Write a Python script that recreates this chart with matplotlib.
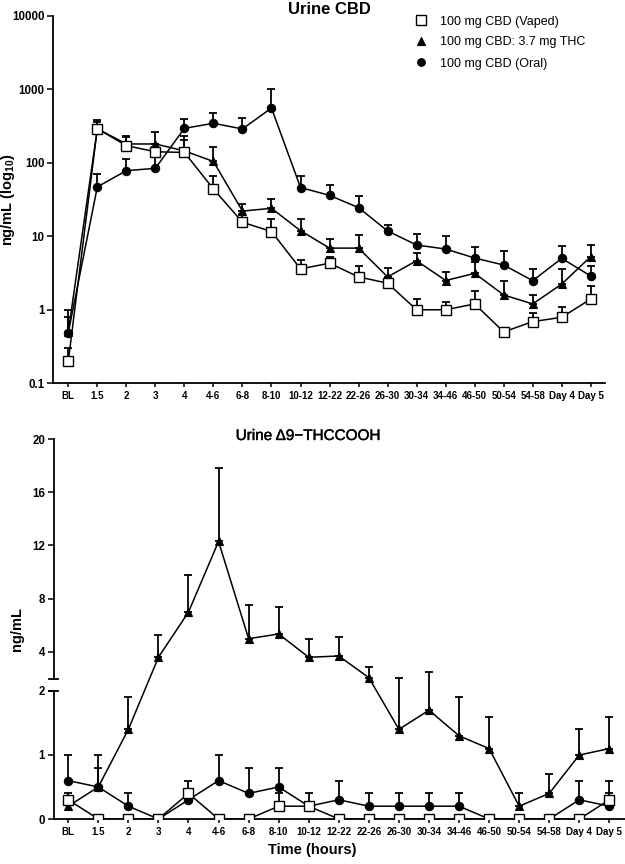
import numpy as np
import matplotlib
matplotlib.use("Agg")
import matplotlib.pyplot as plt
from matplotlib.lines import Line2D
import matplotlib.transforms as mtrans
import matplotlib.patheffects as pe

plt.rcParams['font.family'] = ['Liberation Sans', 'DejaVu Sans']
plt.rcParams['mathtext.fontset'] = 'custom'
plt.rcParams['mathtext.rm'] = 'Liberation Sans'
plt.rcParams['mathtext.bf'] = 'Liberation Sans:bold'

categories = ['BL', '1.5', '2', '3', '4', '4-6', '6-8', '8-10', '10-12', '12-22',
              '22-26', '26-30', '30-34', '34-46', '46-50', '50-54', '54-58', 'Day 4', 'Day 5']

# Urine CBD (ng/mL), means and upper error-bar ends
cbd_vaped = [0.2, 290, 171, 141, 138, 44, 15.5, 11.6, 3.6, 4.3, 2.8, 2.3, 1.0, 1.0, 1.2, 0.5, 0.69, 0.79, 1.4]
cbd_vaped_top = [0.3, 354, 224, 165, 205, 67, 20, 17, 4.75, 5.3, 3.95, 2.8, 1.39, 1.28, 1.8, 0.57, 0.9, 1.1, 2.1]
cbd_mix = [0.5, 290, 180, 180, 145, 104, 22, 24, 11.9, 6.9, 6.9, 2.8, 4.65, 2.5, 3.13, 1.59, 1.2, 2.24, 5.3]
cbd_mix_top = [0.8, 381, 231, 259, 231, 165, 27.5, 32, 17, 9.3, 10.4, 3.7, 6.0, 3.3, 4.5, 2.47, 1.57, 3.55, 7.5]
cbd_oral = [0.49, 47, 78, 84, 294, 344, 288, 555, 46, 36, 24.5, 11.8, 7.6, 6.7, 5.06, 4.06, 2.49, 5.0, 2.88]
cbd_oral_top = [1.0, 70, 112, 120, 390, 480, 410, 1016, 67, 50, 35, 14.1, 10.6, 10.2, 7.1, 6.4, 3.6, 7.4, 4.0]

# Urine THCCOOH (ng/mL)
thc_vaped = [0.3, 0, 0, 0, 0.4, 0, 0, 0.2, 0.2, 0, 0, 0, 0, 0, 0, 0, 0, 0, 0.3]
thc_vaped_top = [0.4, 0, 0, 0, 0.6, 0, 0, 0.4, 0.4, 0, 0, 0, 0, 0, 0, 0, 0, 0, 0.6]
thc_mix = [0.2, 0.5, 1.4, 3.6, 7.0, 12.3, 5.0, 5.35, 3.6, 3.7, 2.07, 1.4, 1.7, 1.3, 1.1, 0.2, 0.4, 1.0, 1.1]
thc_mix_top = [0.2, 0.8, 1.9, 5.3, 9.8, 17.8, 7.5, 7.4, 5.0, 5.1, 2.9, 2.05, 2.5, 1.9, 1.6, 0.4, 0.7, 1.4, 1.6]
thc_oral = [0.6, 0.5, 0.2, 0, 0.3, 0.6, 0.4, 0.5, 0.2, 0.3, 0.2, 0.2, 0.2, 0.2, 0, 0, 0, 0.3, 0.2]
thc_oral_top = [1.0, 1.0, 0.4, 0, 0.3, 1.0, 0.8, 0.8, 0.2, 0.6, 0.4, 0.4, 0.4, 0.4, 0, 0, 0, 0.6, 0.4]

labels = ['100 mg CBD (Vaped)', '100 mg CBD: 3.7 mg THC', '100 mg CBD (Oral)']

W, H = 625, 864
fig = plt.figure(figsize=(W / 100, H / 100), dpi=100)


def px_axes(l, r, t, b):
    return fig.add_axes([l / W, 1 - b / H, (r - l) / W, (b - t) / H])


styles = [
    dict(marker='s', ms=7.0, mfc='white', mec='black', mew=1.0, zorder=5),
    dict(marker='^', ms=6.0, mfc='black', mec='black', mew=0.8, zorder=4),
    dict(marker='o', ms=6.0, mfc='black', mec='black', mew=0.8, zorder=3),
]


def draw_series(ax, vals, tops, st):
    x = np.arange(len(vals))
    v = np.asarray(vals, float)
    t = np.asarray(tops, float)
    d = t - v
    m = d > 1e-9
    ax.errorbar(x[m], v[m], yerr=[np.zeros(m.sum()), d[m]], fmt='none',
                ecolor='black', elinewidth=1.3, capsize=3.2, capthick=1.3,
                zorder=st['zorder'] - 2)
    ax.plot(x, v, color='black', lw=1.1, **st)


def style_axes(ax):
    for s in ['top', 'right']:
        ax.spines[s].set_visible(False)
    for s in ['left', 'bottom']:
        ax.spines[s].set_linewidth(1.3)
    ax.set_xticks(np.arange(len(categories)))
    ax.set_xticklabels(categories, fontsize=7, fontweight='bold')
    ax.tick_params(axis='x', length=3, width=1.1, pad=2.5)
    ax.tick_params(axis='y', length=4.5, width=1.1, pad=1.5, labelsize=8.3)
    for lab in ax.get_yticklabels():
        lab.set_fontweight('bold')


# ---------------- Top panel ----------------
ax1 = px_axes(53, 605, 15.7, 383.3)
ax1.set_yscale('log')
for vals, tops, st in zip([cbd_vaped, cbd_mix, cbd_oral],
                          [cbd_vaped_top, cbd_mix_top, cbd_oral_top], styles):
    draw_series(ax1, vals, tops, st)
ax1.set_ylim(0.1, 10000)
ax1.set_xlim(-0.527, 18.49)
ax1.set_yticks([0.1, 1, 10, 100, 1000, 10000])
ax1.set_yticklabels(['0.1', '1', '10', '100', '1000', '10000'])
ax1.yaxis.set_minor_locator(matplotlib.ticker.NullLocator())
style_axes(ax1)
ax1.set_ylabel(r'ng/mL (log$_{\mathbf{10}}$)', fontsize=10.5, fontweight='bold')
ax1.yaxis.set_label_coords((17 - 53) / 552, 0.5)
fig.text(329 / W, 1 - 9 / H, 'Urine CBD', ha='center', va='center', fontsize=12, fontweight='bold')

handles = [Line2D([], [], ls='none', **{k: v for k, v in st.items() if k != 'zorder'}) for st in styles]
handles[0].set_markersize(6.5)
handles[1].set_markersize(5.5)
handles[2].set_markersize(5.5)
ax1.legend(handles, labels, loc='upper left', bbox_to_anchor=(414.5 / W, 1 - 15.5 / H),
           bbox_transform=fig.transFigure, frameon=False, fontsize=9, handlelength=1.0,
           handletextpad=1.05, labelspacing=0.72, borderpad=0, borderaxespad=0)

# ---------------- Bottom panel (broken axis) ----------------
LOW_K = 64.0
UP_K = 13.31
U4 = 167.0
U_GAP_TOP = U4 + (2 - 4) * UP_K


def fwd(y):
    y = np.asarray(y, float)
    return np.where(y <= 2, LOW_K * y, U4 + (y - 4) * UP_K)


def inv(u):
    u = np.asarray(u, float)
    return np.where(u <= 2 * LOW_K, u / LOW_K,
                    np.where(u < U_GAP_TOP, 2.0, 4 + (u - U4) / UP_K))


ax2 = px_axes(53.5, 625, 439, 819)
ax2.set_yscale('function', functions=(fwd, inv))
for vals, tops, st in zip([thc_vaped, thc_mix, thc_oral],
                          [thc_vaped_top, thc_mix_top, thc_oral_top], styles):
    draw_series(ax2, vals, tops, st)
ax2.set_ylim(0, 20)
ax2.set_xlim(-0.49, 18.52)
ax2.set_yticks([0, 1, 2, 4, 8, 12, 16, 20])
ax2.set_yticklabels(['0', '1', '2', '4', '8', '12', '16', '20'])
ax2.yaxis.set_minor_locator(matplotlib.ticker.NullLocator())
style_axes(ax2)
ax2.spines['left'].set_visible(False)
bt = mtrans.blended_transform_factory(ax2.transAxes, ax2.transData)
ax2.add_line(Line2D([0, 0], [0, 2], transform=bt, color='black', lw=1.3, clip_on=False))
ax2.add_line(Line2D([0, 0], [2.0001, 20], transform=bt, color='black', lw=1.3, clip_on=False))
dx = 4.5 / (625 - 53.5)
ax2.add_line(Line2D([-dx, dx], [2.0001, 2.0001], transform=bt, color='black', lw=1.3, clip_on=False))
ax2.add_line(Line2D([-dx, dx], [2, 2], transform=bt, color='black', lw=1.3, clip_on=False))
ax2.set_ylabel('ng/mL', fontsize=10.5, fontweight='bold')
ax2.yaxis.set_label_coords((24 - 53.5) / 571.5, 0.5)
fig.text(308 / W, 1 - 436 / H, 'Urine \u03949\u2212THCCOOH', ha='center', va='center', fontsize=11,
         path_effects=[pe.withStroke(linewidth=0.3, foreground='black')])
fig.text(312 / W, 1 - 850 / H, 'Time (hours)', ha='center', va='center', fontsize=10.5, fontweight='bold')

fig.savefig('out.png', dpi=100)
